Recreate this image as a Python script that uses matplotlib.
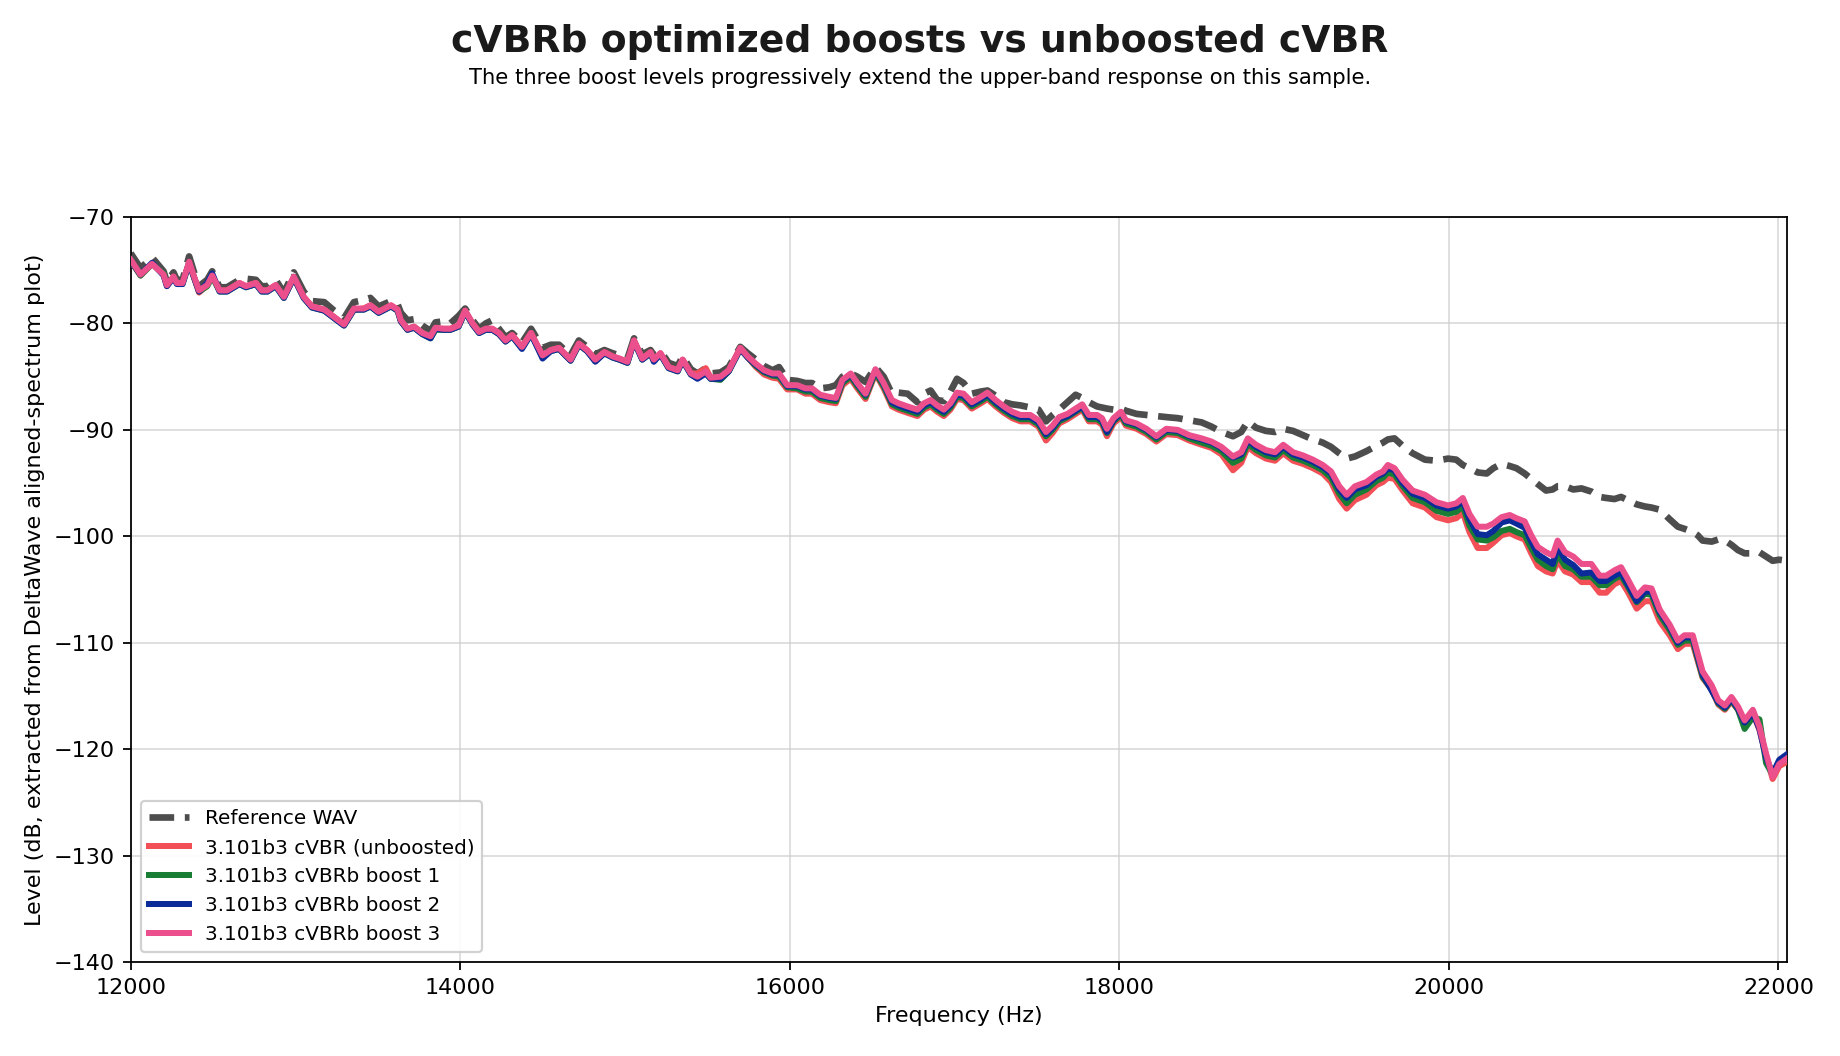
import matplotlib
matplotlib.use("Agg")
import matplotlib.pyplot as plt

# frequency grid (Hz) shared by all traces
freq = [
    12000, 12060, 12130, 12200, 12220, 12260, 12280, 12315, 12355, 12385,
    12415, 12465, 12495, 12540, 12585, 12660, 12700, 12760, 12795, 12830,
    12880, 12930, 12990, 13050, 13100, 13175, 13235, 13295, 13355, 13415,
    13455, 13505, 13580, 13620, 13640, 13680, 13720, 13770, 13820, 13850,
    13900, 13940, 13990, 14030, 14075, 14115, 14155, 14195, 14235, 14275,
    14315, 14375, 14430, 14500, 14550, 14600, 14670, 14720, 14770, 14820,
    14875, 14925, 14965, 15015, 15055, 15105, 15155, 15175, 15215, 15265,
    15320, 15350, 15400, 15440, 15490, 15520, 15580, 15630, 15700, 15745,
    15795, 15845, 15895, 15935, 15985, 16045, 16095, 16135, 16185, 16240,
    16280, 16320, 16370, 16410, 16460, 16520, 16570, 16620, 16660, 16715,
    16775, 16815, 16855, 16895, 16935, 16975, 17015, 17055, 17105, 17160,
    17200, 17250, 17300, 17350, 17400, 17460, 17510, 17555, 17595, 17635,
    17685, 17735, 17775, 17815, 17865, 17895, 17925, 17965, 18010, 18040,
    18105, 18165, 18225, 18285, 18355, 18425, 18500, 18560, 18620, 18690,
    18740, 18780, 18830, 18890, 18945, 18995, 19055, 19115, 19175, 19235,
    19285, 19335, 19380, 19430, 19500, 19560, 19600, 19630, 19670, 19720,
    19780, 19855, 19925, 19995, 20045, 20085, 20125, 20175, 20230, 20270,
    20320, 20370, 20410, 20460, 20500, 20540, 20590, 20630, 20660, 20705,
    20755, 20805, 20865, 20915, 20955, 21005, 21045, 21085, 21140, 21190,
    21230, 21280, 21340, 21390, 21430, 21480, 21510, 21540, 21595, 21635,
    21675, 21715, 21755, 21795, 21845, 21885, 21925, 21965, 22005, 22050,
]

ref_wav = [
    -73.4, -74.8, -73.8, -75.1, -76.1, -75.2, -75.9, -75.9, -73.7, -75.2,
    -76.5, -75.9, -75.1, -76.6, -76.6, -75.9, -75.8, -75.9, -76.5, -76.5,
    -75.9, -77.1, -75.2, -77.0, -77.9, -78.0, -78.8, -79.5, -78.0, -77.8,
    -77.6, -78.4, -77.9, -78.2, -79.0, -79.7, -79.6, -80.2, -80.7, -79.9,
    -79.8, -80.0, -79.3, -78.6, -79.7, -80.5, -80.0, -79.7, -80.5, -81.3,
    -80.9, -81.8, -80.5, -82.3, -82.0, -82.0, -83.0, -81.6, -82.2, -82.9,
    -82.5, -82.8, -83.0, -83.3, -81.4, -82.9, -82.5, -83.0, -82.6, -83.7,
    -84.0, -83.1, -84.3, -84.7, -84.2, -84.7, -84.6, -84.1, -82.2, -82.8,
    -83.4, -84.0, -84.4, -84.1, -85.3, -85.4, -85.6, -85.6, -86.1, -86.0,
    -85.8, -85.0, -84.7, -85.0, -85.5, -84.1, -85.0, -86.6, -86.5, -86.6,
    -87.4, -86.6, -86.3, -87.2, -87.3, -86.4, -85.2, -85.6, -86.6, -86.4,
    -86.3, -86.8, -87.4, -87.6, -87.7, -87.9, -88.1, -89.2, -88.6, -88.1,
    -87.4, -86.7, -87.0, -87.4, -87.8, -87.9, -88.0, -88.1, -88.0, -88.2,
    -88.5, -88.6, -88.7, -88.8, -88.9, -89.1, -89.3, -89.7, -90.2, -90.6,
    -90.2, -89.2, -89.8, -90.1, -90.2, -89.9, -90.1, -90.5, -90.9, -91.2,
    -91.6, -92.2, -92.7, -92.5, -92.0, -91.5, -91.2, -90.9, -90.8, -91.5,
    -92.2, -92.8, -92.9, -92.7, -92.8, -93.3, -93.6, -94.0, -94.1, -93.6,
    -93.2, -93.4, -93.6, -94.1, -94.6, -95.1, -95.7, -95.6, -95.3, -95.3,
    -95.6, -95.5, -95.8, -96.3, -96.4, -96.5, -96.3, -96.6, -97.0, -97.2,
    -97.3, -97.5, -98.4, -99.1, -99.3, -99.6, -99.9, -100.4, -100.5, -100.3,
    -100.4, -100.8, -101.3, -101.6, -101.6, -101.5, -101.9, -102.3, -102.2, -102.3,
]

cvbr_unboosted = [
    -74.1, -75.5, -74.4, -75.4, -76.5, -75.6, -76.2, -76.2, -74.3, -75.7,
    -77.1, -76.4, -75.5, -76.9, -76.9, -76.2, -76.5, -76.2, -76.9, -76.9,
    -76.4, -77.5, -75.7, -77.5, -78.4, -78.7, -79.4, -80.1, -78.7, -78.6,
    -78.3, -78.9, -78.3, -78.7, -79.8, -80.5, -80.3, -80.9, -81.3, -80.5,
    -80.5, -80.5, -80.2, -78.8, -80.0, -80.8, -80.5, -80.5, -80.9, -81.6,
    -81.1, -82.2, -80.9, -83.1, -82.5, -82.3, -83.4, -81.9, -82.5, -83.4,
    -82.7, -83.1, -83.3, -83.6, -81.6, -83.3, -82.7, -83.4, -82.8, -84.1,
    -84.4, -83.4, -84.7, -84.7, -84.2, -85.1, -85.1, -84.4, -82.3, -83.2,
    -84.1, -84.8, -85.1, -85.2, -86.2, -86.2, -86.6, -86.6, -87.2, -87.4,
    -87.5, -85.8, -85.2, -86.1, -87.1, -84.7, -86.1, -87.8, -88.1, -88.4,
    -88.7, -88.1, -87.8, -88.3, -88.7, -88.1, -87.1, -87.2, -88.0, -87.5,
    -87.1, -87.8, -88.4, -88.9, -89.2, -89.2, -89.7, -91.0, -90.3, -89.4,
    -89.0, -88.5, -88.1, -89.2, -89.2, -89.5, -90.6, -89.4, -88.8, -89.6,
    -89.9, -90.4, -91.1, -90.4, -90.5, -91.0, -91.4, -91.7, -92.3, -93.8,
    -93.1, -91.6, -92.2, -92.7, -92.9, -92.2, -92.9, -93.2, -93.6, -94.1,
    -94.9, -96.5, -97.4, -96.6, -96.1, -95.2, -94.9, -94.5, -94.6, -95.7,
    -96.9, -97.3, -98.2, -98.5, -98.3, -97.8, -99.6, -101.1, -101.1, -100.6,
    -99.9, -99.7, -100.0, -100.3, -101.6, -102.8, -103.3, -103.5, -102.3, -103.3,
    -103.6, -104.3, -104.3, -105.3, -105.3, -104.5, -104.2, -105.2, -106.8, -106.1,
    -106.1, -108.0, -109.3, -110.6, -110.1, -110.1, -111.7, -113.3, -114.4, -115.8,
    -116.3, -115.5, -116.3, -117.6, -116.6, -118.2, -120.6, -122.8, -121.6, -121.2,
]

cvbrb_boost1 = [
    -74.1, -75.5, -74.4, -75.3, -76.4, -75.7, -76.2, -76.3, -74.3, -75.7,
    -77.0, -76.5, -75.6, -77.0, -77.0, -76.3, -76.6, -76.3, -77.0, -77.0,
    -76.5, -77.6, -75.7, -77.6, -78.5, -78.8, -79.5, -80.2, -78.7, -78.7,
    -78.4, -79.0, -78.4, -78.8, -79.8, -80.6, -80.4, -81.0, -81.4, -80.6,
    -80.6, -80.6, -80.3, -78.9, -80.1, -80.9, -80.6, -80.6, -81.0, -81.7,
    -81.2, -82.3, -81.0, -83.1, -82.6, -82.4, -83.5, -82.0, -82.6, -83.5,
    -82.8, -83.2, -83.4, -83.7, -81.7, -83.4, -82.8, -83.5, -82.9, -84.2,
    -84.5, -83.5, -84.8, -85.1, -84.6, -85.2, -85.3, -84.5, -82.4, -83.2,
    -84.0, -84.6, -84.9, -85.0, -86.0, -86.1, -86.4, -86.4, -87.0, -87.2,
    -87.3, -85.6, -85.0, -85.9, -86.9, -84.6, -85.9, -87.6, -87.9, -88.2,
    -88.5, -87.9, -87.6, -88.1, -88.5, -87.9, -86.9, -87.0, -87.8, -87.3,
    -86.9, -87.6, -88.2, -88.7, -89.0, -89.0, -89.5, -90.6, -90.0, -89.2,
    -88.8, -88.3, -87.9, -89.0, -89.0, -89.3, -90.3, -89.2, -88.6, -89.4,
    -89.7, -90.2, -90.9, -90.2, -90.3, -90.8, -91.2, -91.5, -92.0, -93.1,
    -92.7, -91.3, -91.9, -92.4, -92.6, -91.9, -92.6, -92.9, -93.3, -93.8,
    -94.5, -96.0, -96.9, -96.1, -95.6, -94.8, -94.5, -94.0, -94.2, -95.3,
    -96.4, -96.8, -97.6, -97.9, -97.7, -97.2, -99.0, -100.3, -100.4, -100.1,
    -99.5, -99.3, -99.6, -99.9, -101.1, -102.2, -102.8, -103.1, -101.7, -102.8,
    -103.1, -103.8, -103.8, -104.6, -104.6, -104.0, -103.7, -104.7, -106.2, -105.4,
    -105.5, -107.4, -108.8, -110.2, -109.8, -109.8, -111.5, -113.2, -114.4, -115.7,
    -116.2, -115.4, -116.3, -118.1, -117.0, -117.2, -121.3, -122.4, -121.2, -120.8,
]

cvbrb_boost2 = [
    -74.1, -75.4, -74.3, -75.5, -76.5, -75.7, -76.3, -76.3, -74.3, -75.7,
    -77.0, -76.2, -75.3, -77.0, -77.0, -76.3, -76.6, -76.3, -77.0, -77.0,
    -76.5, -77.6, -75.7, -77.6, -78.5, -78.8, -79.5, -80.2, -78.7, -78.7,
    -78.4, -79.0, -78.4, -78.8, -79.8, -80.6, -80.4, -81.0, -81.4, -80.5,
    -80.6, -80.6, -80.3, -78.9, -80.1, -80.9, -80.6, -80.6, -81.0, -81.7,
    -81.2, -82.4, -81.0, -83.3, -82.6, -82.4, -83.5, -82.0, -82.6, -83.6,
    -82.8, -83.2, -83.4, -83.7, -81.7, -83.4, -82.8, -83.6, -82.9, -84.2,
    -84.5, -83.5, -84.8, -85.2, -84.7, -85.2, -85.2, -84.5, -82.4, -83.2,
    -83.9, -84.5, -84.8, -84.8, -85.9, -85.9, -86.2, -86.2, -86.8, -87.0,
    -87.1, -85.4, -84.8, -85.7, -86.7, -84.4, -85.7, -87.4, -87.7, -88.0,
    -88.3, -87.7, -87.4, -87.9, -88.3, -87.7, -86.7, -86.8, -87.6, -87.1,
    -86.7, -87.4, -88.0, -88.5, -88.8, -88.8, -89.3, -90.4, -89.8, -89.0,
    -88.7, -88.2, -87.8, -88.8, -88.8, -89.1, -90.2, -89.1, -88.4, -89.2,
    -89.5, -90.0, -90.7, -90.0, -90.1, -90.6, -90.9, -91.2, -91.7, -92.6,
    -92.3, -91.0, -91.6, -92.1, -92.3, -91.6, -92.3, -92.6, -93.0, -93.5,
    -94.1, -95.6, -96.4, -95.6, -95.2, -94.4, -94.1, -93.6, -93.8, -95.0,
    -96.0, -96.4, -97.1, -97.4, -97.2, -96.7, -98.4, -99.8, -99.9, -99.5,
    -98.7, -98.5, -98.8, -99.2, -100.5, -101.7, -102.2, -102.6, -101.0, -102.2,
    -102.7, -103.5, -103.4, -104.2, -104.2, -103.7, -103.4, -104.5, -106.1, -105.2,
    -105.2, -107.1, -108.5, -110.0, -109.5, -109.5, -111.3, -113.0, -114.5, -115.6,
    -116.1, -115.3, -116.2, -117.5, -116.6, -118.1, -120.8, -122.3, -121.0, -120.5,
]

cvbrb_boost3 = [
    -74.0, -75.4, -74.4, -75.4, -76.4, -75.6, -76.2, -76.2, -74.2, -75.6,
    -76.9, -76.4, -75.5, -76.9, -76.9, -76.2, -76.5, -76.2, -76.9, -76.9,
    -76.4, -77.5, -75.6, -77.5, -78.4, -78.7, -79.4, -80.1, -78.6, -78.6,
    -78.3, -78.9, -78.3, -78.7, -79.7, -80.5, -80.3, -80.9, -81.2, -80.4,
    -80.5, -80.5, -80.2, -78.8, -80.0, -80.8, -80.5, -80.5, -80.9, -81.6,
    -81.1, -82.2, -80.9, -83.0, -82.5, -82.3, -83.4, -81.9, -82.5, -83.4,
    -82.7, -83.1, -83.3, -83.6, -81.6, -83.3, -82.7, -83.4, -82.8, -84.1,
    -84.4, -83.4, -84.7, -85.0, -84.5, -85.1, -85.0, -84.4, -82.3, -83.1,
    -83.8, -84.4, -84.7, -84.7, -85.8, -85.8, -86.1, -86.1, -86.7, -86.9,
    -87.0, -85.3, -84.7, -85.6, -86.6, -84.3, -85.6, -87.2, -87.5, -87.8,
    -88.1, -87.5, -87.2, -87.7, -88.1, -87.5, -86.5, -86.6, -87.4, -86.9,
    -86.5, -87.2, -87.8, -88.3, -88.6, -88.6, -89.1, -90.2, -89.6, -88.8,
    -88.5, -88.0, -87.6, -88.6, -88.6, -88.9, -89.9, -88.9, -88.3, -89.1,
    -89.4, -89.9, -90.6, -89.9, -90.0, -90.5, -90.8, -91.1, -91.6, -92.5,
    -92.1, -90.8, -91.4, -91.9, -92.1, -91.4, -92.1, -92.4, -92.8, -93.3,
    -93.9, -95.3, -96.1, -95.3, -94.9, -94.2, -93.9, -93.3, -93.6, -94.7,
    -95.7, -96.1, -96.8, -97.1, -96.9, -96.4, -97.9, -99.1, -99.1, -98.8,
    -98.2, -98.0, -98.3, -98.6, -99.9, -101.0, -101.5, -101.8, -100.4, -101.5,
    -101.9, -102.6, -102.6, -103.7, -103.7, -103.2, -102.9, -104.0, -105.6, -104.8,
    -104.9, -106.9, -108.3, -109.8, -109.3, -109.3, -111.0, -112.7, -114.0, -115.4,
    -115.9, -115.1, -116.0, -117.3, -116.3, -117.9, -120.4, -122.6, -121.4, -120.9,
]

fig = plt.figure(figsize=(11.5, 6.6), dpi=160)
ax = fig.add_axes([0.071, 0.089, 0.9, 0.7055])

ax.plot(freq, ref_wav, color="#4d4d4d", lw=3.0, ls="--", label="Reference WAV", zorder=2)
ax.plot(freq, cvbr_unboosted, color="#f24f57", lw=2.7, label="3.101b3 cVBR (unboosted)", zorder=3)
ax.plot(freq, cvbrb_boost1, color="#1a7d35", lw=2.7, label="3.101b3 cVBRb boost 1", zorder=4)
ax.plot(freq, cvbrb_boost2, color="#0b2b99", lw=2.7, label="3.101b3 cVBRb boost 2", zorder=5)
ax.plot(freq, cvbrb_boost3, color="#ec508c", lw=2.7, label="3.101b3 cVBRb boost 3", zorder=6)

ax.set_xlim(12000, 22050)
ax.set_ylim(-140, -70)
ax.set_xlabel("Frequency (Hz)", fontsize=10)
ax.set_ylabel("Level (dB, extracted from DeltaWave aligned-spectrum plot)", fontsize=10)
ax.grid(True, color="#cccccc", alpha=0.7, lw=0.8)
ax.legend(loc="lower left", fontsize=9, framealpha=0.9)

fig.text(0.5, 0.96, "cVBRb optimized boosts vs unboosted cVBR", ha="center", va="center",
         fontsize=17, fontweight="bold", color="#1a1a1a")
fig.text(0.5, 0.926, "The three boost levels progressively extend the upper-band response on this sample.",
         ha="center", va="center", fontsize=9.5)

fig.savefig("out.png", dpi=160)
